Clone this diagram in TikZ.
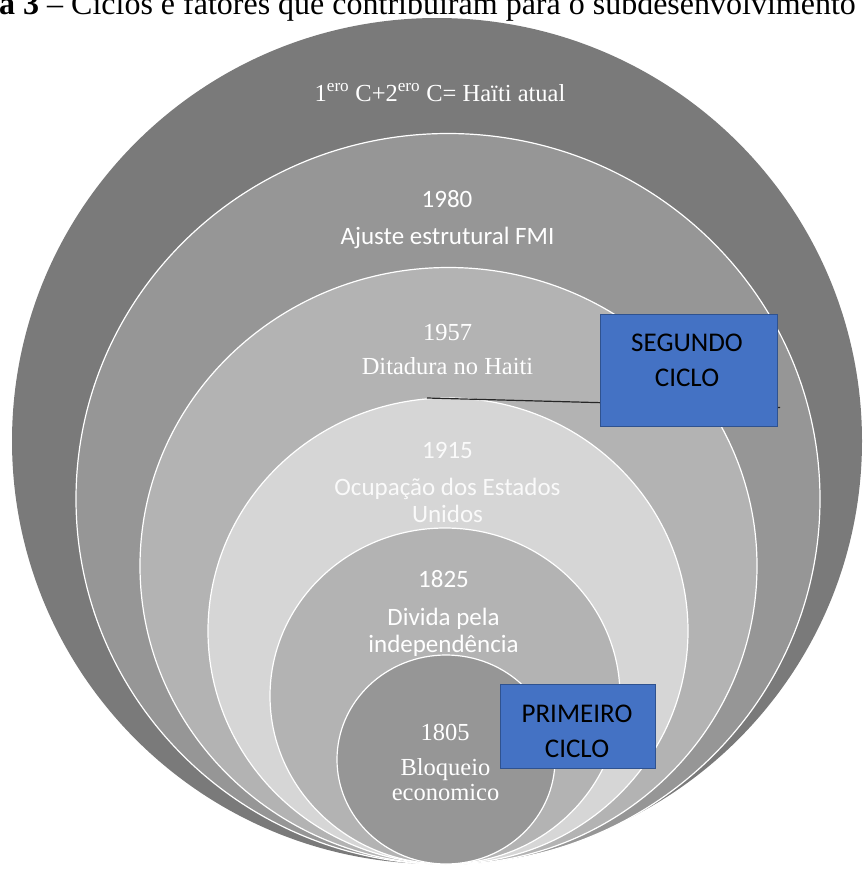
\documentclass[tikz,border=0pt]{standalone}
\usepackage{fontspec}
\setmainfont{Liberation Serif}
\newfontfamily\calfont{Carlito}
\usetikzlibrary{shapes.geometric}
\definecolor{gA}{HTML}{7A7A7A}
\definecolor{gB}{HTML}{969696}
\definecolor{gC}{HTML}{B3B3B3}
\definecolor{gD}{HTML}{D6D6D6}
\definecolor{boxblue}{HTML}{4472C4}
\definecolor{boxedge}{HTML}{2F528F}
\begin{document}
\begin{tikzpicture}[x=1pt,y=-1pt,
  ring/.style={ellipse, draw=white, line width=1.2pt, inner sep=0pt},
  calab/.style={anchor=base, inner sep=0pt, text=white, font=\calfont\fontsize{25}{30}\selectfont},
  tilab/.style={anchor=base, inner sep=0pt, text=white, font=\fontsize{24.5}{29}\selectfont},
  cyclebox/.style={rectangle, fill=boxblue, draw=boxedge, line width=1pt, inner sep=0pt},
  boxtext/.style={anchor=base, inner sep=0pt, text=black, font=\calfont\fontsize{27}{32}\selectfont}]
\useasboundingbox (0,0) rectangle (866,870);
\clip (0,0) rectangle (866,870);
% nested circles
\node[ellipse, fill=gA, inner sep=0pt, minimum width=850pt, minimum height=846pt] (c1) at (437,441) {};
\node[ring, fill=gB, minimum width=744pt, minimum height=731pt] (c2) at (448,499) {};
\node[ring, fill=gC, minimum width=617pt, minimum height=597pt] (c3) at (448.5,566) {};
\node[ring, fill=gD, minimum width=480pt, minimum height=466pt] (c4) at (448,631) {};
\node[ring, fill=gC, minimum width=350pt, minimum height=336pt] (c5) at (445,696) {};
\node[ring, fill=gB, minimum width=218pt, minimum height=209pt] (c6) at (446,759.5) {};
% connector
\coordinate (lnA) at (427,398);
\coordinate (lnB) at (780,407.5);
\draw[line width=1.2pt, black!85] (lnA) -- (lnB);
% labels
\node[tilab, font=\fontsize{24.5}{29}\selectfont] (lhaiti) at (440,101) {1\textsuperscript{ero} C+2\textsuperscript{ero} C= Haïti atual};
\node[calab] (l1980) at (447,207) {1980};
\node[calab] (lfmi) at (447.5,244) {Ajuste estrutural FMI};
\node[tilab] (l1957) at (447.5,340) {1957};
\node[tilab] (lditad) at (447.5,374) {Ditadura no Haiti};
\node[calab, text=white!96!gray] (l1915) at (447.5,458) {1915};
\node[calab, text=white!96!gray] (locup) at (447.5,495) {Ocupação dos Estados};
\node[calab, text=white!96!gray] (lunid) at (447.5,522) {Unidos};
\node[calab] (l1825) at (443.5,587) {1825};
\node[calab] (ldiv) at (443.5,625) {Divida pela};
\node[calab] (lind) at (443.5,652) {independência};
\node[tilab] (l1805) at (445,740) {1805};
\node[tilab] (lbloq) at (445.5,775) {Bloqueio};
\node[tilab] (lecon) at (445.5,800) {economico};
% boxes
\node[cyclebox, minimum width=177pt, minimum height=112pt] (seg) at (688.5,370) {};
\node[boxtext] (segA) at (687,351) {SEGUNDO};
\node[boxtext] (segB) at (687,386) {CICLO};
\node[cyclebox, minimum width=155pt, minimum height=84pt] (prim) at (577.5,726) {};
\node[boxtext] (primA) at (577,722) {PRIMEIRO};
\node[boxtext] (primB) at (577,757) {CICLO};
% caption (cut at the top, as in the reference)
\node[anchor=base west, inner sep=0pt, font=\fontsize{32}{36}\selectfont] (title) at (-1,14) {\textbf{a 3} – Ciclos e fatores que contribuíram para o subdesenvolvimento};
\end{tikzpicture}
\end{document}
